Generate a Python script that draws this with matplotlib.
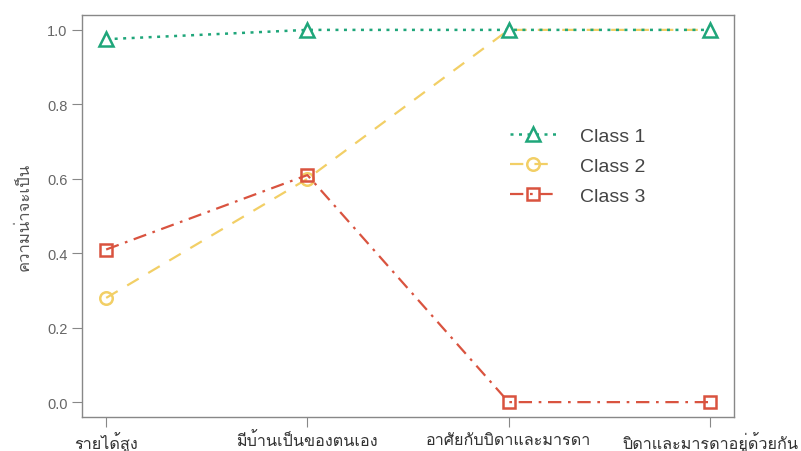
import matplotlib
matplotlib.use("Agg")
import matplotlib.pyplot as plt
from matplotlib import font_manager
from matplotlib.ft2font import FT2Font

categories = ["รายได้สูง", "มีบ้านเป็นของตนเอง", "อาศัยกับบิดาและมารดา", "บิดาและมารดาอยู่ด้วยกัน"]
class1 = [0.975, 1.0, 1.0, 1.0]
class2 = [0.28, 0.60, 1.0, 1.0]
class3 = [0.41, 0.61, 0.0, 0.0]
series_names = ["Class 1", "Class 2", "Class 3"]
ylabel = "ความน่าจะเป็น"

# find a font with Thai glyphs
thai_family = None
for f in font_manager.fontManager.ttflist:
    try:
        ft = FT2Font(f.fname)
        cm = ft.get_charmap()
        if 0x0E23 in cm and 0x0E49 in cm:
            thai_family = f.name
            break
    except Exception:
        pass
fams = ([thai_family] if thai_family else []) + ["DejaVu Sans"]
plt.rcParams["font.family"] = ["Liberation Sans", "DejaVu Sans"]

fig = plt.figure(figsize=(8.01, 4.52), dpi=100)
ax = fig.add_axes([0.1024, 0.0752, 0.814, 0.8894])

x = list(range(1, len(categories) + 1))
green = "#1fa67a"
yellow = "#f2cf66"
red = "#d9533f"

ax.plot(x, class2, color=yellow, linestyle=(0, (6, 5)), linewidth=1.6,
        marker="o", markersize=9, markerfacecolor="none", markeredgewidth=1.8,
        markevery=[0, 1], label=series_names[1], zorder=2)
ax.plot(x, class1, color=green, linestyle=(0, (1.2, 2.2)), linewidth=1.8,
        marker="^", markersize=10, markerfacecolor="white", markeredgewidth=1.8,
        label=series_names[0], zorder=4)
ax.plot(x, class3, color=red, linestyle=(0, (6, 3, 1.2, 3)), linewidth=1.6,
        marker="s", markersize=9, markerfacecolor="none", markeredgewidth=1.8,
        label=series_names[2], zorder=3)

ax.set_xlim(0.88, 4.12)
ax.set_ylim(-0.04, 1.04)
ax.set_xticks(x)
ax.set_xticklabels(categories, family=fams, fontsize=11.7, color="#333333")
ax.set_yticks([0.0, 0.2, 0.4, 0.6, 0.8, 1.0])
ax.set_yticklabels(["0.0", "0.2", "0.4", "0.6", "0.8", "1.0"])
ax.tick_params(axis="y", labelsize=10.5, labelcolor="#666666", color="#888888", length=7)
ax.tick_params(axis="x", color="#888888", length=7)
ax.set_ylabel(ylabel, family=fams, fontsize=12, color="#555555", labelpad=10)
for s in ax.spines.values():
    s.set_color("#888888")
    s.set_linewidth(1.0)

handles, labels = ax.get_legend_handles_labels()
order = [labels.index(n) for n in series_names]
leg = ax.legend([handles[i] for i in order], [labels[i] for i in order],
                loc="center left", bbox_to_anchor=(0.656, 0.624), frameon=False,
                fontsize=14, handlelength=2.4, labelspacing=0.62, handletextpad=1.2,
                borderpad=0, borderaxespad=0)
for t in leg.get_texts():
    t.set_color("#444444")

fig.savefig("out.png", dpi=100)
